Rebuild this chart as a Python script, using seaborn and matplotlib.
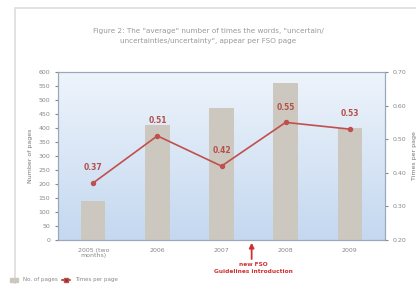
import numpy as np
import pandas as pd
import matplotlib.pyplot as plt
import matplotlib.patches as patches
import seaborn as sns

# Chart data
years = ["2005 (two\nmonths)", "2006", "2007", "2008", "2009"]
pages = [140, 410, 470, 560, 400]
times_per_page = [0.37, 0.51, 0.42, 0.55, 0.53]
left_ticks = list(range(0, 601, 50))
right_ticks = [0.20, 0.30, 0.40, 0.50, 0.60, 0.70]

df = pd.DataFrame({"year": years, "pages": pages, "times": times_per_page})

sns.set_style("white")
plt.rcParams["font.family"] = ["DejaVu Sans"]

fig = plt.figure(figsize=(4.16, 2.84), dpi=100)
fig.patches.append(patches.Rectangle((15 / 416, -0.1), 1.2, 1 - 8 / 284 + 0.1,
                                     transform=fig.transFigure, fill=False,
                                     edgecolor="#dddddd", linewidth=1.2))

ax = fig.add_axes([58 / 416, 44 / 284, 327 / 416, 168 / 284])

# gradient background of the plot area
grad = np.linspace(0, 1, 256).reshape(-1, 1)
grad = np.hstack([grad, grad])
cmap = sns.blend_palette(["#eef4fb", "#c4d8f0"], as_cmap=True)
ax.imshow(grad, extent=[0, 1, 0, 1], transform=ax.transAxes, cmap=cmap,
          aspect="auto", zorder=0, origin="upper")

sns.barplot(data=df, x="year", y="pages", color="#cdc8bf", width=0.38,
            saturation=1, linewidth=0, ax=ax, zorder=2)
ax.set_ylim(0, 600)
ax.set_xlim(-0.55, 4.55)
ax.set_yticks(left_ticks)
ax.set_ylabel("Number of pages", fontsize=4.5, color="#777777")
ax.set_xlabel("")
ax.tick_params(axis="both", labelsize=4.5, colors="#888888", length=2)
for s in ax.spines.values():
    s.set_color("#9aa8bb")

ax2 = ax.twinx()
sns.pointplot(data=df, x="year", y="times", color="#c0504d", ax=ax2,
              markers="o", markersize=3, linewidth=1.2, zorder=4)
ax2.set_ylim(0.20, 0.70)
ax2.set_yticks(right_ticks)
ax2.set_yticklabels([f"{v:.2f}" for v in right_ticks])
ax2.set_ylabel("Times per page", fontsize=4.5, color="#777777")
ax2.tick_params(axis="y", labelsize=4.5, colors="#888888", length=2)
ax2.set_xlim(-0.55, 4.55)
for s in ax2.spines.values():
    s.set_color("#9aa8bb")

for i, v in enumerate(times_per_page):
    ax2.text(i, v + 0.045, f"{v:.2f}", ha="center", va="center",
             fontsize=5.5, color="#b5504a", fontweight="bold", zorder=5)

fig.text(208 / 416, 1 - 36 / 284,
         "Figure 2: The \"average\" number of times the words, \"uncertain/\n"
         "uncertainties/uncertainty\", appear per FSO page",
         ha="center", va="center", fontsize=5.2, color="#999999",
         linespacing=1.7)

# arrow for guidelines introduction
ax.annotate("", xy=(2.47, 0), xycoords="data",
            xytext=(2.47, -0.13), textcoords=("data", "axes fraction"),
            arrowprops=dict(arrowstyle="-|>", color="#d03030", lw=1.3,
                            mutation_scale=7), annotation_clip=False)
fig.text(253 / 416, 1 - 268 / 284, "new FSO\nGuidelines introduction",
         ha="center", va="center", fontsize=4.2, color="#d03030",
         fontweight="bold", linespacing=1.3)

handles = [patches.Patch(color="#cdc8bf", label="No. of pages"),
           plt.Line2D([0], [0], color="#c0504d", marker="s", markersize=3,
                      markerfacecolor="#8b3030", label="Times per page")]
fig.legend(handles=handles, loc="center left",
           bbox_to_anchor=(5 / 416, 1 - 280 / 284), ncol=2, fontsize=4,
           frameon=False, handlelength=1.5, columnspacing=0.8,
           labelcolor="#888888")

plt.savefig("out.png", dpi=100)
